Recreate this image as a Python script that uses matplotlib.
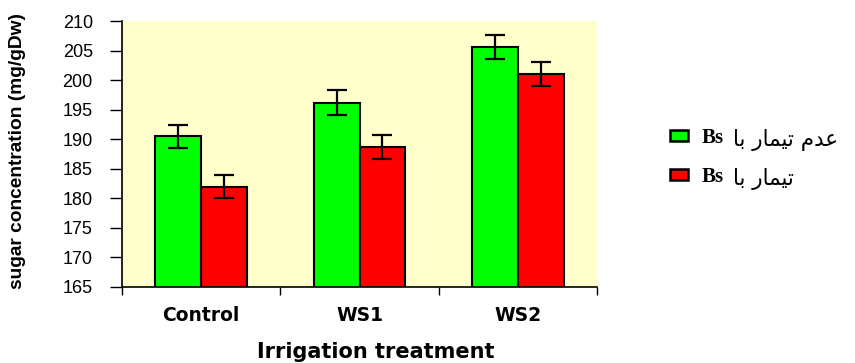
import matplotlib.pyplot as plt
from matplotlib.patches import Patch
import numpy as np

# ---------- Data ----------
treatments = ['Control', 'WS1', 'WS2']
no_bs = [190.5, 196.2, 205.6]        # عدم تیمار با Bs
no_bs_err = [1.9, 2.1, 2.1]
with_bs = [182.0, 188.7, 201.0]      # تیمار با Bs
with_bs_err = [2.0, 2.0, 2.0]

# Persian part of the legend, in presentation forms and visual order
# (matplotlib does no Arabic shaping / bidi on its own)
fa_no_bs = '\uFE8E\uFE91 \uFEAD\uFE8E\uFEE4\uFBFF\uFE97 \uFEE1\uFEAA\uFECB'   # عدم تیمار با
fa_with_bs = '\uFE8E\uFE91 \uFEAD\uFE8E\uFEE4\uFBFF\uFE97'                     # تیمار با

yticks = np.arange(165, 211, 5)

# ---------- Figure ----------
fig = plt.figure(figsize=(8.55, 3.63), dpi=100)
ax = fig.add_axes([0.1427, 0.2094, 0.5556, 0.7327])
ax.set_facecolor('#FFFFCC')

x = np.arange(len(treatments))
w = 0.29
ax.bar(x - w / 2, no_bs, w, color='#00FF00', edgecolor='black', linewidth=1.5, zorder=2)
ax.bar(x + w / 2, with_bs, w, color='#FF0000', edgecolor='black', linewidth=1.5, zorder=2)
ax.errorbar(x - w / 2, no_bs, yerr=no_bs_err, fmt='none', ecolor='black',
            elinewidth=1.6, capsize=7, capthick=1.6, zorder=3)
ax.errorbar(x + w / 2, with_bs, yerr=with_bs_err, fmt='none', ecolor='black',
            elinewidth=1.6, capsize=7, capthick=1.6, zorder=3)

ax.set_xlim(-0.5, 2.5)
ax.set_ylim(165, 210)
ax.set_yticks(yticks)
ax.set_yticklabels([str(v) for v in yticks], fontsize=13, family='Liberation Sans')
ax.tick_params(axis='y', length=9, width=1, pad=12, direction='out')

# ticks on the category boundaries, names centred between them
ax.set_xticks([-0.5, 0.5, 1.5, 2.5])
ax.set_xticklabels([])
ax.set_xticks(x, minor=True)
ax.set_xticklabels(treatments, minor=True, fontsize=13.5, fontweight='bold', family='DejaVu Sans')
ax.tick_params(axis='x', which='major', length=6, width=1, direction='out')
ax.tick_params(axis='x', which='minor', length=0, pad=14)

for s in ['top', 'right']:
    ax.spines[s].set_visible(False)
for s in ['left', 'bottom']:
    ax.spines[s].set_linewidth(1.2)

ax.set_xlabel('Irrigation treatment', fontsize=15, fontweight='bold', family='DejaVu Sans')
ax.xaxis.set_label_coords(0.535, -0.205)
fig.text(0.021, 0.584, 'sugar concentration (mg/gDw)', rotation=90, ha='center', va='center',
         fontsize=13.8, fontweight='bold', family='Liberation Sans')

# legend: boxes + bold "Bs", Persian words added right after
handles = [Patch(facecolor='#00FF00', edgecolor='black', linewidth=1.8),
           Patch(facecolor='#FF0000', edgecolor='black', linewidth=1.8)]
leg = fig.legend(handles, ['Bs', 'Bs'], loc='upper left',
                 bbox_to_anchor=(0.762, 0.7), frameon=False, labelspacing=0.92,
                 handlelength=0.85, handleheight=0.45, handletextpad=0.65,
                 prop=dict(family='Liberation Serif', weight='bold', size=15))
fig.canvas.draw()
inv = fig.transFigure.inverted()
for t, fa in zip(leg.get_texts(), [fa_no_bs, fa_with_bs]):
    bb = t.get_window_extent()
    x0, y0 = inv.transform((bb.x1 + 9, (bb.y0 + bb.y1) / 2 - 2))
    fig.text(x0, y0, fa, ha='left', va='center', fontsize=15.5, family='DejaVu Sans')

fig.savefig('out.png', dpi=100)
